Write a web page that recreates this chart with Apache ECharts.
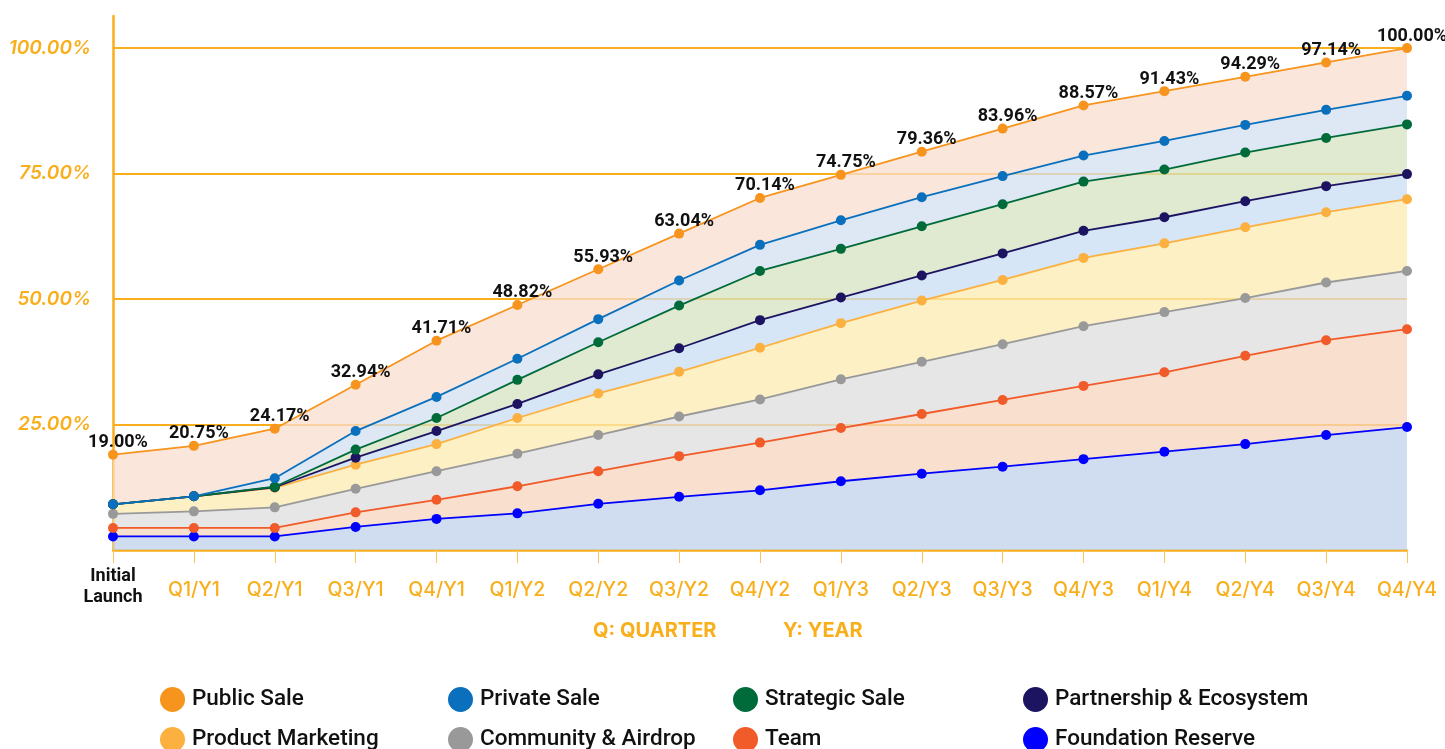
<!DOCTYPE html>
<html>
<head>
<meta charset="utf-8">
<title>Token release schedule</title>
<script src="https://cdn.jsdelivr.net/npm/echarts@6.0.0/dist/echarts.min.js"></script>
<style>
  html, body { margin: 0; padding: 0; background: #fff; }
  #chart { width: 1445px; height: 749px; }
</style>
</head>
<body>
<div id="chart"></div>
<script>
// x categories (first one is drawn in black on two lines)
var categories = ['Initial Launch', 'Q1/Y1', 'Q2/Y1', 'Q3/Y1', 'Q4/Y1', 'Q1/Y2', 'Q2/Y2', 'Q3/Y2', 'Q4/Y2',
                  'Q1/Y3', 'Q2/Y3', 'Q3/Y3', 'Q4/Y3', 'Q1/Y4', 'Q2/Y4', 'Q3/Y4', 'Q4/Y4'];

// cumulative unlocked supply (%), top line = total
var publicSale      = [19.00, 20.75, 24.17, 32.94, 41.71, 48.82, 55.93, 63.04, 70.14, 74.75, 79.36, 83.96, 88.57, 91.43, 94.29, 97.14, 100.00];
var privateSale     = [9.1, 10.7, 14.3, 23.7, 30.5, 38.1, 46.0, 53.7, 60.8, 65.7, 70.3, 74.5, 78.6, 81.5, 84.7, 87.7, 90.5];
var strategicSale   = [9.1, 10.7, 12.6, 20.0, 26.3, 33.9, 41.4, 48.7, 55.6, 60.0, 64.5, 68.9, 73.4, 75.8, 79.2, 82.1, 84.8];
var partnership     = [9.1, 10.7, 12.5, 18.4, 23.7, 29.1, 35.0, 40.2, 45.8, 50.3, 54.7, 59.1, 63.6, 66.3, 69.5, 72.5, 74.9];
var productMarketing= [9.1, 10.7, 12.4, 17.0, 21.1, 26.3, 31.2, 35.5, 40.3, 45.2, 49.7, 53.8, 58.2, 61.1, 64.3, 67.3, 69.9];
var community       = [7.2, 7.7, 8.5, 12.2, 15.7, 19.2, 22.9, 26.6, 30.0, 34.0, 37.5, 41.0, 44.6, 47.4, 50.2, 53.3, 55.6];
var team            = [4.4, 4.4, 4.4, 7.5, 10.0, 12.7, 15.7, 18.7, 21.4, 24.3, 27.1, 29.9, 32.7, 35.4, 38.7, 41.8, 44.0];
var foundation      = [2.7, 2.7, 2.7, 4.6, 6.2, 7.3, 9.2, 10.6, 11.9, 13.7, 15.2, 16.6, 18.1, 19.6, 21.1, 22.9, 24.5];

// labels printed above the total line
var totalLabels = ['19.00%', '20.75%', '24.17%', '32.94%', '41.71%', '48.82%', '55.93%', '63.04%', '70.14%',
                   '74.75%', '79.36%', '83.96%', '88.57%', '91.43%', '94.29%', '97.14%', '100.00%'];

var ORANGE = '#f9ae1b';

// bottom layer first, so the stack builds upward
var layers = [
  { name: 'Foundation Reserve',     values: foundation,       color: '#0000ff', area: 'rgba(192,210,235,0.75)' },
  { name: 'Team',                   values: team,             color: '#f15a29', area: 'rgba(247,212,188,0.75)' },
  { name: 'Community & Airdrop',    values: community,        color: '#999999', area: 'rgba(222,222,222,0.75)' },
  { name: 'Product Marketing',      values: productMarketing, color: '#fbb040', area: 'rgba(252,235,176,0.75)' },
  { name: 'Partnership & Ecosystem',values: partnership,      color: '#1d1461', area: 'rgba(200,222,243,0.75)' },
  { name: 'Strategic Sale',         values: strategicSale,    color: '#006b3a', area: 'rgba(212,227,192,0.75)' },
  { name: 'Private Sale',           values: privateSale,      color: '#0a70bd', area: 'rgba(210,224,240,0.75)' },
  { name: 'Public Sale',            values: publicSale,       color: '#f7941d', area: 'rgba(250,222,208,0.75)' }
];

var series = [];
var below = null;
layers.forEach(function (layer) {
  var prev = below;
  var data = layer.values.map(function (v, i) {
    return prev ? +(v - prev[i]).toFixed(2) : v;
  });
  below = layer.values;
  var s = {
    name: layer.name,
    type: 'line',
    stack: 'total',
    stackStrategy: 'all',
    data: data,
    symbol: 'circle',
    symbolSize: 10,
    color: layer.color,
    lineStyle: { width: 1.8, color: layer.color },
    itemStyle: { color: layer.color },
    areaStyle: { color: layer.area, opacity: 1 }
  };
  if (layer.name === 'Public Sale') {
    s.label = {
      show: true,
      position: 'top',
      distance: -2,
      offset: [5, 0],
      color: '#111',
      fontFamily: 'Roboto',
      fontWeight: 'bold',
      fontSize: 18,
      formatter: function (p) { return totalLabels[p.dataIndex]; }
    };
  }
  series.push(s);
});

// one legend per entry so the two rows line up in columns
var legendCols = [160, 448, 733, 1023];
var legendRows = [687, 727];
var legendNames = [
  ['Public Sale', 'Private Sale', 'Strategic Sale', 'Partnership & Ecosystem'],
  ['Product Marketing', 'Community & Airdrop', 'Team', 'Foundation Reserve']
];
var legends = [];
legendNames.forEach(function (row, r) {
  row.forEach(function (name, c) {
    legends.push({
      left: legendCols[c],
      top: legendRows[r],
      icon: 'circle',
      itemWidth: 25,
      itemHeight: 25,
      padding: 0,
      textStyle: { color: '#111', fontFamily: 'Roboto', fontWeight: 500, fontSize: 22.5, padding: [0, 0, 0, 2] },
      data: [name]
    });
  });
});

var myChart = echarts.init(document.getElementById('chart'));
myChart.setOption({
  animation: false,
  backgroundColor: '#fff',
  grid: { left: 113, right: 38, top: 16, bottom: 199 },
  legend: legends,
  xAxis: {
    type: 'category',
    boundaryGap: false,
    data: categories,
    axisLine: { lineStyle: { color: ORANGE, width: 2.5 } },
    axisTick: { show: true, length: 13, lineStyle: { color: '#fbc35a', width: 1 } },
    splitLine: { show: false },
    axisLabel: {
      interval: 0,
      margin: 16,
      formatter: function (v, i) {
        return i === 0 ? '{init|Initial}\n{init|Launch}' : '{q|' + v + '}';
      },
      rich: {
        init: { color: '#111', fontFamily: 'Roboto', fontWeight: 'bold', fontSize: 18, lineHeight: 21 },
        q: { color: ORANGE, fontFamily: 'Inter', fontWeight: 500, fontSize: 19.5, lineHeight: 48 }
      }
    }
  },
  yAxis: {
    type: 'value',
    min: 0,
    max: 106.4,
    interval: 25,
    axisLine: { show: true, lineStyle: { color: ORANGE, width: 2.5 } },
    axisTick: { show: false },
    splitLine: { show: true, showMaxLine: false, lineStyle: { color: ORANGE, width: 2 } },
    axisLabel: {
      showMinLabel: false,
      showMaxLabel: false,
      margin: 22,
      color: ORANGE,
      fontFamily: 'Inter',
      fontStyle: 'italic',
      fontWeight: 600,
      fontSize: 19,
      formatter: function (v) { return v.toFixed(2) + '%'; }
    }
  },
  graphic: [
    { type: 'text', left: 593, top: 621,
      style: { text: 'Q: QUARTER', fill: ORANGE, font: 'bold 20px Inter' } },
    { type: 'text', left: 783, top: 621,
      style: { text: 'Y: YEAR', fill: ORANGE, font: 'bold 20px Inter' } }
  ],
  series: series
});
</script>
</body>
</html>
